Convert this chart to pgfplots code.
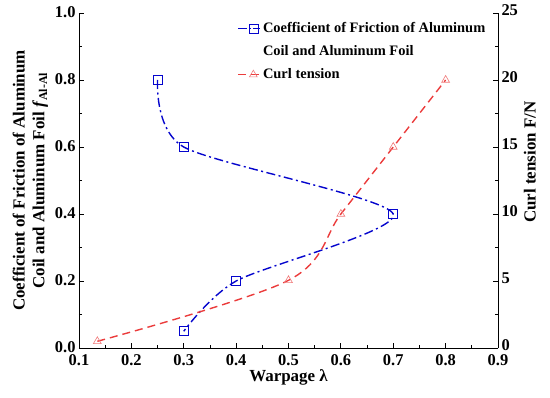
\documentclass[border=0pt]{standalone}
\usepackage{pgfplots}
\pgfplotsset{compat=1.18}
\usepackage{fontspec}
\setmainfont{Liberation Serif}
\definecolor{cblue}{RGB}{5,5,205}
\definecolor{cred}{RGB}{235,60,60}
\definecolor{cpink}{RGB}{240,120,120}
\begin{document}
\begin{tikzpicture}
\useasboundingbox (-79bp,-50bp) rectangle (471bp,348bp);
\pgfplotsset{
  every axis/.append style={
    scale only axis, width=419bp, height=335bp,
    xmin=0.1, xmax=0.9,
    tick style={black, line width=0.8pt},
    major tick length=5bp, minor tick length=3bp,
    tick align=inside,
    ticklabel style={font=\fontsize{16.5}{18}\selectfont\bfseries},
    /pgf/number format/assume math mode=true,
    label style={font=\fontsize{17}{20}\selectfont\bfseries},
    axis line style={line width=1pt},
  }
}
\begin{axis}[
  axis y line*=left, axis x line*=bottom,
  ymin=0, ymax=1,
  xtick={0.1,0.2,...,0.9},
  ytick={0,0.2,...,1.0},
  minor x tick num=1, minor y tick num=1,
  xticklabel style={yshift=-3bp, /pgf/number format/.cd,fixed,fixed zerofill,precision=1},
  yticklabel style={yshift=1bp, /pgf/number format/.cd,fixed,fixed zerofill,precision=1},
  xlabel={Warpage λ},
  xlabel style={yshift=3bp},
  ylabel={Coefficient of Friction of Aluminum\\Coil and Aluminum Foil \textit{f}\textsubscript{Al-Al}},
  ylabel style={align=center},
]
\addplot[cblue, line width=1.4pt, smooth, tension=0.45,
  dash pattern=on 9bp off 3.5bp on 2bp off 3.5bp,
  mark=square, mark size=4.5bp, mark options={solid, line width=0.6pt, fill=white}]
  coordinates {(0.25,0.8) (0.3,0.6) (0.7,0.4) (0.4,0.2) (0.3,0.05)};
\end{axis}
\begin{axis}[
  axis y line*=right, axis x line=none,
  ymin=0, ymax=25,
  ytick={0,5,...,25},
  minor y tick num=1,
  yticklabel style={yshift=2.5bp},
  ylabel={Curl tension F/N},
  ylabel style={at={(rel axis cs:1.076,0.555)}, anchor=center},
  legend style={draw=none, fill=none, at={(rel axis cs:0.371,0.985)}, anchor=north west,
    font=\fontsize{14.5}{16}\selectfont\bfseries, row sep=6bp,
    nodes={text height=10bp, text depth=3bp}},
  legend cell align=left,
  legend image code/.code={\draw[mark repeat=2,mark phase=2] plot coordinates {(0bp,0bp) (15bp,0bp) (22bp,0bp)};},
]
\addlegendimage{cblue, line width=1.4pt, dash pattern=on 9bp off 2bp on 2bp off 2bp, mark=square, mark size=4.5bp, mark options={solid, line width=0.6pt}}
\addlegendentry{Coefficient of Friction of Aluminum}
\addlegendimage{empty legend}
\addlegendentry{Coil and Aluminum Foil}
\addplot[cred, line width=1.4pt, smooth, tension=0.55,
  dash pattern=on 8bp off 5bp,
  mark=triangle, mark size=4.5bp, mark options={solid, cpink, line width=0.6pt, fill=white}]
  coordinates {(0.135,0.5) (0.5,5.05) (0.6,10) (0.7,15) (0.8,20)};
\addlegendentry{Curl tension}
\end{axis}
\end{tikzpicture}
\end{document}
